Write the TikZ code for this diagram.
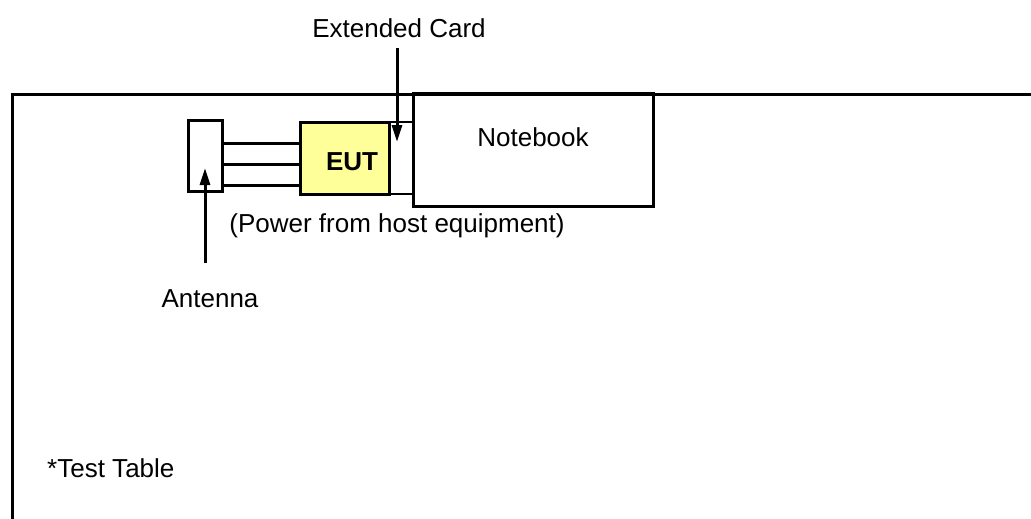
\documentclass[tikz,border=0pt]{standalone}
\usepackage{fontspec}
\setmainfont{Liberation Sans}
\usetikzlibrary{arrows.meta}
\definecolor{eutyellow}{HTML}{FFFF99}
\begin{document}
\begin{tikzpicture}[x=1pt,y=-1pt,
  box/.style={draw,line width=3pt,inner sep=0pt,outer sep=0pt},
  lbl/.style={font=\fontsize{26}{30}\selectfont,inner sep=0pt},
  conn/.style={line width=3pt},
  arr/.style={line width=3pt,-{Triangle[length=17pt,width=10pt]}}]
\useasboundingbox (0,0) rectangle (1031,519);
% table frame
\draw[line width=3pt] (12,521) -- (12,94) -- (1033,94);
% boxes
\node[box,minimum width=34pt,minimum height=71pt] (ant) at (205,155.5) {};
\node[box,fill=eutyellow,minimum width=89pt,minimum height=72pt] (eut) at (344.5,158) {};
\node[box,line width=2.5pt,minimum width=24pt,minimum height=72pt] (card) at (401,158) {};
\node[box,minimum width=240pt,minimum height=113pt] (nb) at (533,149.5) {};
% texts
\node[lbl] (nbt) at (533,137) {Notebook};
\node[lbl,font=\fontsize{26}{30}\selectfont\bfseries] (eutt) at (352,162) {EUT};
\node[lbl] (ext) at (399,28) {Extended Card};
\node[lbl] (pow) at (397,226) {(Power from host equipment)};
\node[lbl] (antt) at (210,299) {Antenna};
\node[lbl,anchor=west] (tt) at (47,468) {*Test Table};
% connecting lines
\foreach \yy in {143,164,185}
  \draw[conn] (ant.east |- 0,\yy) -- (eut.west |- 0,\yy);
% arrows
\coordinate (extfrom) at (397,48);
\coordinate (extto) at (397,142);
\draw[arr] (extfrom) -- (extto);
\coordinate (antfrom) at (205,263);
\coordinate (antto) at (205,168);
\draw[arr] (antfrom) -- (antto);
\end{tikzpicture}
\end{document}
